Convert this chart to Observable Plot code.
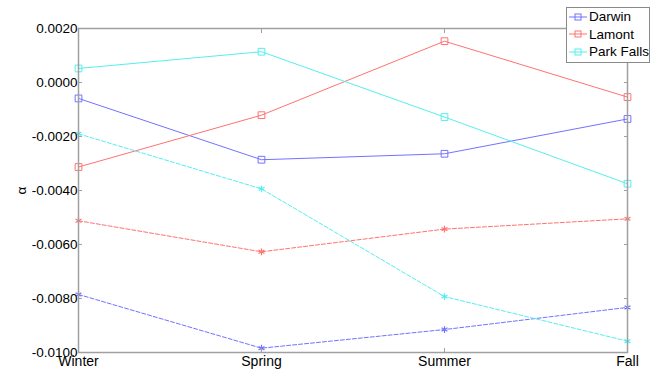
<!DOCTYPE html>
<html>
<head>
<meta charset="utf-8">
<script src="https://cdn.jsdelivr.net/npm/d3@7"></script>
<script src="https://cdn.jsdelivr.net/npm/@observablehq/plot@0.6"></script>
<style>
  body { margin: 0; background: #fff; font-family: "Liberation Sans", Arial, sans-serif; }
  #wrap { position: relative; width: 657px; height: 374px; }
  #legend { position: absolute; left: 566px; top: 7px; width: 82px; height: 54px; border: 1px solid #8a8a8a; background: #fff; font-size: 13.5px; color: #000; }
  .row { display: flex; align-items: center; height: 17.5px; }
  .row svg { display: block; }
</style>
</head>
<body>
<div id="wrap"></div>
<script>
const seasons = ["Winter", "Spring", "Summer", "Fall"];
const stations = ["Darwin", "Lamont", "Park Falls"];
const stationColors = ["#7272ff", "#ff7272", "#55eeee"];
// solid lines with square markers
const darwinSquare = [-0.00059, -0.00286, -0.00264, -0.00135];
const lamontSquare = [-0.00313, -0.00121, 0.00153, -0.00054];
const parkFallsSquare = [0.00052, 0.00114, -0.00128, -0.00375];
// dashed lines with asterisk markers
const darwinStar = [-0.00785, -0.00984, -0.00915, -0.00833];
const lamontStar = [-0.00512, -0.00627, -0.00543, -0.00505];
const parkFallsStar = [-0.0019, -0.00394, -0.00793, -0.00958];
const yTicks = [-0.01, -0.008, -0.006, -0.004, -0.002, 0, 0.002];

const squareSeries = [darwinSquare, lamontSquare, parkFallsSquare];
const starSeries = [darwinStar, lamontStar, parkFallsStar];
const rows = [];
stations.forEach((s, i) => {
  seasons.forEach((season, j) => {
    rows.push({station: s, season, value: squareSeries[i][j], kind: "square"});
    rows.push({station: s, season, value: starSeries[i][j], kind: "star"});
  });
});
const sq = rows.filter(d => d.kind === "square");
const st = rows.filter(d => d.kind === "star");
const axisGray = "#a0a0a0";
const fmt = d => d.toFixed(4);

const chart = Plot.plot({
  width: 657,
  height: 374,
  marginLeft: 78,
  marginRight: 30,
  marginTop: 28,
  marginBottom: 22,
  style: {fontFamily: '"Liberation Sans", Arial, sans-serif', fontSize: "14px", background: "#fff"},
  x: {type: "point", domain: seasons, padding: 0},
  y: {domain: [-0.01, 0.002]},
  color: {domain: stations, range: stationColors},
  marks: [
    Plot.line(sq, {x: "season", y: "value", z: "station", stroke: "station", strokeWidth: 1}),
    Plot.line(st, {x: "season", y: "value", z: "station", stroke: "station", strokeWidth: 1, strokeDasharray: "4,2"}),
    Plot.dot(sq, {x: "season", y: "value", stroke: "station", symbol: "square", r: 3.8, strokeWidth: 1}),
    Plot.dot(st, {x: "season", y: "value", stroke: "station", symbol: "asterisk", r: 3.2, strokeWidth: 1.2}),
    Plot.frame({stroke: axisGray, strokeWidth: 1.5}),
    Plot.axisY({ticks: yTicks, anchor: "left", tickSize: -4, tickPadding: 5, tickFormat: fmt, stroke: axisGray, fill: "#000", fontSize: 13.5, label: "α", labelAnchor: "center", labelOffset: 62, labelArrow: "none"}),
    Plot.axisY({ticks: yTicks, anchor: "right", tickSize: -4, tickFormat: () => "", stroke: axisGray, label: null}),
    Plot.axisX({anchor: "bottom", tickSize: -4, tickPadding: 8, stroke: axisGray, fill: "#000", fontSize: 14, label: null}),
    Plot.axisX({anchor: "top", tickSize: -4, tickFormat: () => "", stroke: axisGray, label: null})
  ]
});
const wrap = document.getElementById("wrap");
wrap.appendChild(chart);

const legend = document.createElement("div");
legend.id = "legend";
stations.forEach((s, i) => {
  const row = document.createElement("div");
  row.className = "row";
  const c = stationColors[i];
  row.innerHTML = `<svg width="22" height="12"><line x1="2" x2="20" y1="6" y2="6" stroke="${c}" stroke-width="1"/><rect x="8" y="3" width="6" height="6" fill="none" stroke="${c}"/></svg><span>${s}</span>`;
  legend.appendChild(row);
});
wrap.appendChild(legend);
</script>
</body>
</html>
